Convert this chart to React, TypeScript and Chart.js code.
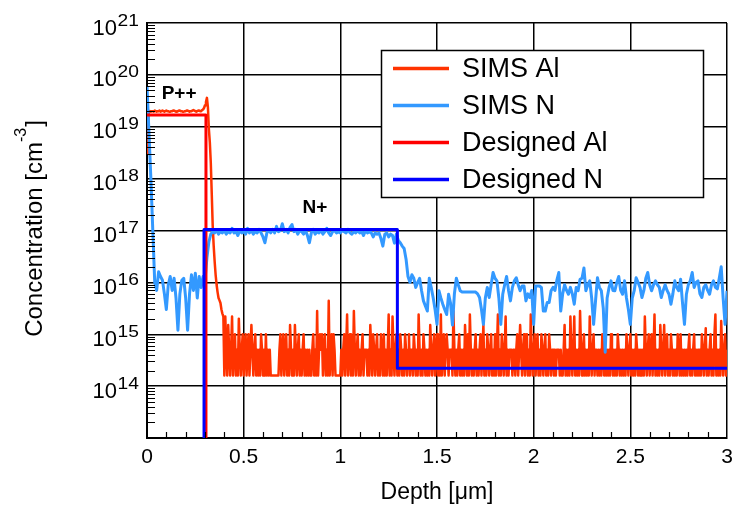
import React, { useEffect, useRef } from 'react';
import { Chart, registerables } from 'chart.js';

Chart.register(...registerables);

// ---------- data ----------
const SIMS_AL_STEP = 0.005; // µm, SIMS Al sampling step (index * step = depth)
const SIMS_N_STEP = 0.01; // µm, SIMS N sampling step

const SIMS_AL = [
  3e18, 1.2e19, 1.95e19, 2.0e19, 1.95e19, 2.0e19, 2.0e19, 1.95e19, 2.05e19, 2.0e19, 1.95e19, 2.0e19, 2.0e19, 2.05e19, 1.95e19, 2.0e19, 2.05e19, 2.0e19, 1.95e19, 2.0e19,
  2.05e19, 2.0e19, 2.0e19, 1.95e19, 1.95e19, 2.0e19, 2.0e19, 2.05e19, 2.05e19, 2.0e19, 1.95e19, 2.0e19, 2.0e19, 2.05e19, 2.05e19, 2.0e19, 2.0e19, 1.95e19, 1.95e19, 2.0e19,
  2.0e19, 2.05e19, 2.05e19, 2.0e19, 1.95e19, 2.0e19, 2.0e19, 2.05e19, 2.1e19, 2.05e19, 2.0e19, 1.95e19, 2.0e19, 2.05e19, 2.05e19, 2.0e19, 2.0e19, 2.1e19, 2.15e19, 2.3e19,
  2.6e19, 3.0e19, 3.6e19, 2.4e19, 9e18, 5e18, 2e18, 5e17, 1.2e17, 5e16, 2.5e16, 1.4e16, 9e15, 6.5e15, 5e15, 4.5e15, 4e15, 3e15, 2.5e15, 2.2e15,
  1.6e14, 2.2e15, 5e14, 1.6e14, 1.5e15, 5e14, 1.6e14, 5e14, 2.2e15, 1.6e14, 5e14, 1e15, 1.6e14, 5e14, 1.6e14, 2e15, 5e14, 1.6e14, 5e14, 1e15,
  1.6e14, 5e14, 1e15, 1.6e14, 5e14, 1e15, 1.6e14, 5e14, 1.5e15, 5e14, 1.6e14, 5e14, 1e15, 1.6e14, 5e14, 1.6e14, 5e14, 1.6e14, 1e15, 5e14,
  1.6e14, 5e14, 1.6e14, 1e15, 1.6e14, 5e14, 1.6e14, 5e14, 1.6e14, 1.6e14, 1.6e14, 1.6e14, 1.6e14, 1.6e14, 1.6e14, 1.6e14, 1.6e14, 5e14, 1e15, 1.6e14,
  5e14, 1e15, 1.6e14, 5e14, 1e15, 1.6e14, 5e14, 1.6e14, 1.5e15, 5e14, 1.6e14, 5e14, 1.6e14, 1.5e15, 5e14, 1.6e14, 5e14, 1e15, 1.6e14, 5e14,
  1.6e14, 5e14, 1e15, 1.6e14, 5e14, 1.6e14, 5e14, 1.6e14, 5e14, 1.6e14, 1.6e14, 5e14, 1e15, 1.6e14, 5e14, 1.6e14, 2.8e15, 1.6e14, 5e14, 1e15,
  5e14, 1e15, 1.6e14, 5e14, 1e15, 1.6e14, 5e14, 1.6e14, 4.4e15, 1.6e14, 5e14, 1e15, 1.6e14, 1e15, 5e14, 1.6e14, 1.6e14, 1.6e14, 1.6e14, 1.6e14,
  1.6e14, 5e14, 1.6e14, 5e14, 1e15, 1.6e14, 5e14, 2.4e15, 1.6e14, 5e14, 1e15, 1.6e14, 5e14, 1.6e14, 2.8e15, 5e14, 1.6e14, 5e14, 1e15, 1.6e14,
  5e14, 1.6e14, 5e14, 1e15, 1.6e14, 5e14, 5e14, 5e14, 1.6e14, 5e14, 1.6e14, 1.5e15, 5e14, 1.6e14, 1e15, 5e14, 1.6e14, 5e14, 1e15, 1.6e14,
  5e14, 1.6e14, 1e15, 5e14, 1.6e14, 1e15, 1.6e14, 5e14, 1.6e14, 5e14, 2.4e15, 1.6e14, 5e14, 1.6e14, 2.2e15, 5e14, 1.6e14, 5e14, 1e15, 1.6e14,
  5e14, 1.6e14, 1e15, 5e14, 1.6e14, 5e14, 1.6e14, 1e15, 5e14, 1.6e14, 5e14, 1e15, 1.6e14, 5e14, 5e14, 1.6e14, 1e15, 5e14, 1.6e14, 5e14,
  1.6e14, 2.4e15, 5e14, 1.6e14, 5e14, 1.6e14, 1e15, 5e14, 1.6e14, 5e14, 1.6e14, 5e14, 1.6e14, 1.5e15, 5e14, 1.6e14, 5e14, 1e15, 1.6e14, 5e14,
  1e15, 1.6e14, 5e14, 1.6e14, 2.4e15, 1.6e14, 5e14, 1e15, 1.6e14, 5e14, 1e15, 5e14, 1.6e14, 5e14, 5e14, 5e14, 1.6e14, 2.8e15, 5e14, 1.6e14,
  5e14, 1.6e14, 5e14, 1e15, 1.6e14, 5e14, 1.6e14, 5e14, 1.6e14, 1.5e15, 5e14, 1.6e14, 1e15, 1.6e14, 2.4e15, 5e14, 1.6e14, 5e14, 1.6e14, 5e14,
  1e15, 1.6e14, 5e14, 1.6e14, 5e14, 1e15, 1.6e14, 5e14, 1.5e15, 1.6e14, 5e14, 1.6e14, 1e15, 5e14, 1.6e14, 5e14, 1e15, 1.6e14, 5e14, 1.6e14,
  1e15, 1.6e14, 5e14, 2.4e15, 1.6e14, 5e14, 1.6e14, 1e15, 5e14, 1.6e14, 5e14, 2.2e15, 1.6e14, 5e14, 1.6e14, 5e14, 5e14, 5e14, 1.6e14, 5e14,
  5e14, 1.6e14, 5e14, 1e15, 1.6e14, 5e14, 1.5e15, 5e14, 1.6e14, 5e14, 1e15, 1.6e14, 5e14, 1e15, 1.6e14, 5e14, 1.6e14, 2.4e15, 5e14, 1.6e14,
  5e14, 1e15, 1.6e14, 5e14, 1e15, 1.6e14, 5e14, 1.6e14, 1e15, 5e14, 1.6e14, 5e14, 1e15, 1.6e14, 5e14, 1.6e14, 1e15, 5e14, 1.6e14, 5e14,
  5e14, 1.6e14, 5e14, 1.6e14, 5e14, 5e14, 5e14, 1.6e14, 5e14, 1.6e14, 1.6e14, 5e14, 1.5e15, 1.6e14, 5e14, 1.6e14, 5e14, 1.6e14, 2.2e15, 5e14,
  1.6e14, 5e14, 2.2e15, 1.6e14, 5e14, 1.6e14, 5e14, 1.6e14, 2.8e15, 5e14, 1.6e14, 5e14, 1e15, 1.6e14, 5e14, 1.6e14, 5e14, 1.6e14, 2.2e15, 5e14,
  1.6e14, 5e14, 1e15, 1.6e14, 5e14, 5e14, 1.6e14, 5e14, 1.6e14, 5e14, 1.6e14, 1e15, 5e14, 1.6e14, 5e14, 1.6e14, 5e14, 1.6e14, 5e14, 1.6e14,
  1e15, 5e14, 1.6e14, 5e14, 1.6e14, 5e14, 1.6e14, 1e15, 5e14, 1.6e14, 5e14, 1.6e14, 5e14, 1.6e14, 5e14, 1.6e14, 1e15, 5e14, 1.6e14, 5e14,
  1e15, 1.6e14, 5e14, 1.6e14, 5e14, 1.6e14, 1e15, 5e14, 1.6e14, 5e14, 1.6e14, 5e14, 1.6e14, 5e14, 1.6e14, 2.2e15, 5e14, 1.6e14, 5e14, 1e15,
  1.6e14, 5e14, 1e15, 1.6e14, 5e14, 2.4e15, 1.6e14, 5e14, 1.6e14, 5e14, 1.6e14, 1.5e15, 5e14, 1.6e14, 5e14, 1.5e15, 1.6e14, 5e14, 1e15, 1.6e14,
  5e14, 1.6e14, 1e15, 5e14, 1.6e14, 5e14, 1.6e14, 5e14, 1.6e14, 1e15, 5e14, 1.6e14, 1e15, 1.6e14, 5e14, 1.6e14, 5e14, 1.6e14, 5e14, 1.6e14,
  5e14, 1e15, 1.6e14, 5e14, 1.6e14, 5e14, 1e15, 1.6e14, 5e14, 1.6e14, 5e14, 1.6e14, 5e14, 1.6e14, 1e15, 5e14, 1.6e14, 5e14, 1.3e15, 1.6e14,
  5e14, 1.6e14, 5e14, 1e15, 1.6e14, 5e14, 1.6e14, 1e15, 2.4e15, 1.6e14, 5e14, 1.6e14, 5e14, 1.6e14, 1.8e15, 5e14, 1.6e14, 5e14, 1e15, 1.6e14,
  5e14,
];

const SIMS_N = [
  6e19, 8e18, 1e18, 1e17, 1e16, 7e15, 1.6e16, 1.3e16, 1.1e16, 6e15,
  3e15, 9e15, 1.3e16, 7e15, 1.2e16, 5e15, 1.2e15, 6e15, 1.1e16, 1.2e16,
  5e15, 1.2e15, 6e15, 1.4e16, 7e15, 1.5e16, 5e15, 1.3e16, 8e15, 1.3e16,
  1.1e16, 3e16, 6e16, 8.5e16, 9.5e16, 9e16, 1.0e17, 8.5e16, 9.5e16, 9e16,
  1.0e17, 8.5e16, 9.5e16, 9e16, 1.1e17, 9e16, 9.5e16, 8e16, 1.0e17, 9e16,
  9.5e16, 8.5e16, 1.1e17, 9e16, 1.0e17, 8.5e16, 9.5e16, 9e16, 1.05e17, 9e16,
  7.5e16, 5.8e16, 9e16, 1.0e17, 9e16, 1.05e17, 9e16, 1.2e17, 9.5e16, 1.0e17,
  1.35e17, 9.5e16, 1.05e17, 9e16, 1.15e17, 1.3e17, 9.5e16, 1.05e17, 8.5e16, 1.0e17,
  9.5e16, 8.5e16, 1.0e17, 8e16, 5.8e16, 9e16, 1.05e17, 8.5e16, 9.5e16, 9e16,
  1.0e17, 8.5e16, 9.5e16, 1.1e17, 9e16, 8e16, 9.5e16, 1.0e17, 9e16, 9.5e16,
  9e16, 1.0e17, 9.5e16, 9e16, 1.05e17, 9e16, 8.5e16, 9.5e16, 9e16, 1.0e17,
  9e16, 9.5e16, 8e16, 1.0e17, 9e16, 9.5e16, 9e16, 7.5e16, 9e16, 8.5e16,
  9e16, 7e16, 5e16, 8.5e16, 9e16, 7.5e16, 8.5e16, 8e16, 5.7e16, 8.5e16,
  6.4e16, 5.8e16, 5e16, 4.5e16, 2.8e16, 1.3e16, 1e16, 1.4e16, 1.2e16, 8e15,
  1e16, 1.2e16, 7e15, 4.4e15, 3.5e15, 2.8e15, 1.2e16, 8e15, 5.1e15, 3e15,
  1.55e15, 6.9e15, 5e15, 3.8e15, 3e15, 2.4e15, 5.9e15, 4e15, 1.5e15, 6e15,
  1.2e16, 9e15, 6.9e15, 6.5e15, 6.5e15, 6.5e15, 6.5e15, 6.5e15, 6.5e15, 6.5e15,
  6.5e15, 6e15, 5.1e15, 3e15, 1.55e15, 5e15, 8e15, 5.1e15, 9e15, 1.55e16,
  1.2e16, 1.07e16, 5e15, 1.55e15, 5.9e15, 9e15, 1.3e16, 7e15, 4.4e15, 8e15,
  1.07e16, 1.23e16, 9e15, 6.9e15, 8.5e15, 8.5e15, 4.4e15, 6e15, 5.1e15, 7e15,
  1.55e15, 8.5e15, 8.5e15, 8.5e15, 8e15, 2.8e15, 2.8e15, 4.1e15, 4.1e15, 6.9e15,
  8e15, 7e15, 1.1e16, 1.55e16, 2.8e15, 6e15, 9e15, 7e15, 5.9e15, 8e15,
  6e15, 3.8e15, 8e15, 6.9e15, 1.15e16, 1.2e16, 1.9e16, 6.9e15, 9e15, 1.07e16,
  5e15, 1.55e15, 4.4e15, 1.23e16, 8e15, 6.9e15, 3.2e15, 4.5e14, 5e15, 8e15,
  1.07e16, 7e15, 6.9e15, 1e16, 1.3e16, 7e15, 5.9e15, 1.07e16, 5e15, 3e15,
  1.55e15, 5e15, 6.9e15, 1.23e16, 1e16, 8e15, 5.1e15, 7e15, 1.2e16, 1.55e16,
  9e15, 6.9e15, 9e15, 1.07e16, 9e15, 8e15, 5.1e15, 7e15, 9e15, 7e15,
  5.9e15, 3.8e15, 6e15, 1.07e16, 8e15, 6.9e15, 1.15e16, 4e15, 1.55e15, 5.9e15,
  9e15, 1.07e16, 1.55e16, 8e15, 1e16, 1.07e16, 6e15, 5.1e15, 8e15, 9e15,
  7e15, 5.9e15, 9e15, 1.07e16, 8e15, 7.5e15, 1.2e16, 2e16, 5e15, 1.55e15,
  6.9e15,
];

const DESIGNED_AL_DEPTH = [0, 0.305, 0.305, 3];
const DESIGNED_AL = [1.68e19, 1.68e19, 1e10, 1e10];
const DESIGNED_N_DEPTH = [0, 0.295, 0.295, 1.295, 1.295, 3];
const DESIGNED_N = [1e10, 1e10, 1.05e17, 1.05e17, 2.2e14, 2.2e14];

const SERIES_LABELS = ['SIMS Al', 'SIMS N', 'Designed Al', 'Designed N'];
const SERIES_COLORS = ['#ff3300', '#3399ff', '#ff0000', '#0000ff'];

const X_TICKS = [0, 0.5, 1, 1.5, 2, 2.5, 3];
const X_TICK_LABELS = ['0', '0.5', '1', '1.5', '2', '2.5', '3'];
const Y_DECADES = [13, 14, 15, 16, 17, 18, 19, 20, 21];
const Y_LABEL_EXPONENTS = ['14', '15', '16', '17', '18', '19', '20', '21'];

const ANNOT_TEXT = ['P++', 'N+'];
const ANNOT_DEPTH = [0.166, 0.869];
const ANNOT_VALUE = [4.3e19, 2.8e17];

const X_TITLE = 'Depth [\u03bcm]';
const Y_TITLE_MAIN = 'Concentration [cm';
const Y_TITLE_SUP = '-3';
const Y_TITLE_END = ']';

const FONT = '"Liberation Sans", Arial, Helvetica, sans-serif';

function sampledPoints(values: number[], step: number) {
  return values.map((v, i) => ({ x: i * step, y: v }));
}
function stepPoints(xs: number[], ys: number[]) {
  return xs.map((x, i) => ({ x, y: ys[i] }));
}

const overlayPlugin = {
  id: 'overlay',
  afterDraw(chart: any) {
    const ctx = chart.ctx as CanvasRenderingContext2D;
    const xs = chart.scales.x;
    const ys = chart.scales.y;
    const a = chart.chartArea;
    ctx.save();

    // minor ticks (inside)
    ctx.strokeStyle = '#000';
    ctx.lineWidth = 1.2;
    ctx.beginPath();
    for (let n = Y_DECADES[0]; n < Y_DECADES[Y_DECADES.length - 1]; n++) {
      for (let k = 2; k <= 9; k++) {
        const py = Math.round(ys.getPixelForValue(k * Math.pow(10, n))) + 0.5;
        ctx.moveTo(a.left, py);
        ctx.lineTo(a.left + 8, py);
      }
    }
    for (let i = 1; i < 30; i++) {
      if (i % 5 === 0) continue;
      const px = Math.round(xs.getPixelForValue(i / 10)) + 0.5;
      ctx.moveTo(px, a.bottom);
      ctx.lineTo(px, a.bottom - 6);
    }
    ctx.stroke();

    ctx.fillStyle = '#000';

    // y tick labels with superscript
    Y_LABEL_EXPONENTS.forEach((e) => {
      const gy = ys.getPixelForValue(Math.pow(10, Number(e)));
      ctx.font = `22px ${FONT}`;
      ctx.textAlign = 'left';
      ctx.textBaseline = 'alphabetic';
      ctx.fillText('10', 92.5, gy + 11.5);
      const w = ctx.measureText('10').width;
      ctx.save();
      ctx.font = `16px ${FONT}`;
      ctx.translate(92.5 + w + 0.5, gy + 2.5);
      ctx.scale(1.2, 1);
      ctx.fillText(e, 0, 0);
      ctx.restore();
    });

    // y title (rotated, with superscript)
    ctx.save();
    ctx.translate(42, (a.top + a.bottom) / 2 - 2);
    ctx.rotate(-Math.PI / 2);
    ctx.textAlign = 'left';
    ctx.textBaseline = 'alphabetic';
    ctx.font = `24px ${FONT}`;
    const w1 = ctx.measureText(Y_TITLE_MAIN).width;
    const w3 = ctx.measureText(Y_TITLE_END).width;
    ctx.font = `16px ${FONT}`;
    const w2 = ctx.measureText(Y_TITLE_SUP).width;
    const total = w1 + w2 + w3 + 1;
    let sx = -total / 2;
    ctx.font = `24px ${FONT}`;
    ctx.fillText(Y_TITLE_MAIN, sx, 0);
    sx += w1;
    ctx.font = `16px ${FONT}`;
    ctx.fillText(Y_TITLE_SUP, sx, -16);
    sx += w2 + 1;
    ctx.font = `24px ${FONT}`;
    ctx.fillText(Y_TITLE_END, sx, 0);
    ctx.restore();

    // annotations
    ctx.font = `bold 19px ${FONT}`;
    ctx.textAlign = 'center';
    ctx.textBaseline = 'middle';
    ANNOT_TEXT.forEach((t, i) => {
      ctx.fillText(t, xs.getPixelForValue(ANNOT_DEPTH[i]), ys.getPixelForValue(ANNOT_VALUE[i]));
    });

    // legend
    const lx = 381.5, ly = 50.5, lw = 322, lh = 147;
    ctx.fillStyle = '#fff';
    ctx.fillRect(lx, ly, lw, lh);
    ctx.strokeStyle = '#000';
    ctx.lineWidth = 1.5;
    ctx.strokeRect(lx, ly, lw, lh);
    SERIES_LABELS.forEach((label, i) => {
      const yy = 68.5 + i * 37;
      ctx.strokeStyle = SERIES_COLORS[i];
      ctx.lineWidth = 3.5;
      ctx.beginPath();
      ctx.moveTo(393, yy);
      ctx.lineTo(449, yy);
      ctx.stroke();
      ctx.fillStyle = '#000';
      ctx.font = `27px ${FONT}`;
      ctx.textAlign = 'left';
      ctx.textBaseline = 'alphabetic';
      ctx.fillText(label, 462, yy + 8);
    });

    ctx.restore();
  },
};

export default function App() {
  const ref = useRef<HTMLCanvasElement | null>(null);

  useEffect(() => {
    if (!ref.current) return;
    Chart.defaults.font.family = FONT;
    const chart = new Chart(ref.current, {
      type: 'line',
      data: {
        datasets: [
          {
            label: SERIES_LABELS[3],
            data: stepPoints(DESIGNED_N_DEPTH, DESIGNED_N),
            borderColor: SERIES_COLORS[3],
            borderWidth: 3,
          },
          {
            label: SERIES_LABELS[2],
            data: stepPoints(DESIGNED_AL_DEPTH, DESIGNED_AL),
            borderColor: SERIES_COLORS[2],
            borderWidth: 3,
          },
          {
            label: SERIES_LABELS[1],
            data: sampledPoints(SIMS_N, SIMS_N_STEP),
            borderColor: SERIES_COLORS[1],
            borderWidth: 3,
          },
          {
            label: SERIES_LABELS[0],
            data: sampledPoints(SIMS_AL, SIMS_AL_STEP),
            borderColor: SERIES_COLORS[0],
            borderWidth: 2.5,
          },
        ],
      },
      options: {
        animation: false,
        responsive: false,
        maintainAspectRatio: false,
        layout: { padding: { left: 0, right: 16, top: 23, bottom: 0 } },
        plugins: { legend: { display: false }, tooltip: { enabled: false } },
        elements: {
          point: { radius: 0 },
          line: { tension: 0, borderJoinStyle: 'round', fill: false },
        },
        scales: {
          x: {
            type: 'linear',
            min: 0,
            max: 3,
            afterBuildTicks: (s: any) => {
              s.ticks = X_TICKS.map((v) => ({ value: v }));
            },
            afterFit: (s: any) => {
              s.height = 75;
            },
            ticks: {
              color: '#000',
              font: { size: 21, family: FONT },
              padding: 7,
              autoSkip: false,
              maxRotation: 0,
              callback: (v: any) => {
                const idx = X_TICKS.indexOf(Number(v));
                return idx >= 0 ? X_TICK_LABELS[idx] : '';
              },
            },
            grid: { color: '#000', lineWidth: 1.5, drawTicks: false },
            border: { color: '#000', width: 2 },
            title: {
              display: true,
              text: X_TITLE,
              color: '#000',
              font: { size: 23, family: FONT },
              padding: { top: 0, bottom: 7 },
            },
          },
          y: {
            type: 'logarithmic',
            min: 1e13,
            max: 1e21,
            afterBuildTicks: (s: any) => {
              s.ticks = Y_DECADES.map((n) => ({ value: Math.pow(10, n) }));
            },
            afterFit: (s: any) => {
              s.width = 147;
            },
            ticks: { display: false },
            grid: { color: '#000', lineWidth: 1.5, drawTicks: false },
            border: { color: '#000', width: 2 },
          },
        },
      },
      plugins: [overlayPlugin],
    } as any);
    return () => chart.destroy();
  }, []);

  return (
    <div style={{ position: 'absolute', left: 0, top: 0, width: 743, height: 513 }}>
      <canvas ref={ref} width={743} height={513} style={{ display: 'block' }} />
    </div>
  );
}
